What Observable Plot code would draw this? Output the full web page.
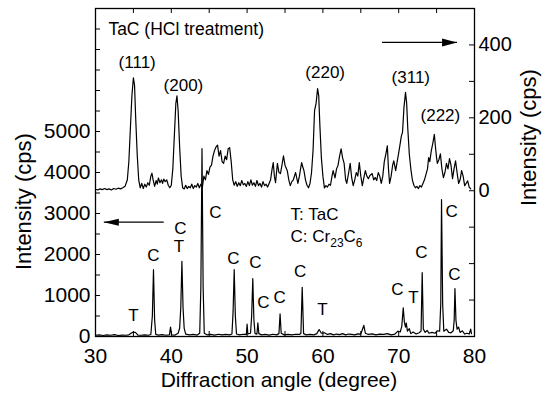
<!DOCTYPE html>
<html><head><meta charset="utf-8">
<script src="https://cdn.jsdelivr.net/npm/d3@7"></script>
<script src="https://cdn.jsdelivr.net/npm/@observablehq/plot@0.6"></script>
<style>html,body{margin:0;padding:0;background:#fff;}</style>
</head><body><div id="chart"></div>
<script>
// Upper trace: TaC after HCl treatment, right axis (cps)
const upperTrace = [
[30.0,4],[30.3,2],[30.6,5],[30.9,3],[31.2,6],[31.5,3],[31.8,5],[32.1,2],[32.4,6],[32.7,4],[33.0,7],[33.3,5],[33.6,8],[33.9,12],
[34.2,30],[34.4,80],[34.6,170],[34.8,260],[35.0,310],[35.15,290],[35.3,200],[35.5,100],[35.7,30],[35.9,8],[36.1,20],[36.3,6],
[36.5,18],[36.7,10],[36.9,22],[37.1,15],[37.3,40],[37.45,48],[37.6,30],[37.8,12],[38.0,28],[38.15,18],[38.3,35],[38.5,22],
[38.7,30],[38.85,20],[39.0,32],[39.2,25],[39.4,30],[39.6,15],[39.8,8],[40.0,15],[40.2,60],[40.4,150],[40.6,240],[40.75,260],
[40.9,220],[41.1,120],[41.3,40],[41.5,8],[41.7,5],[41.9,15],[42.1,6],[42.3,12],[42.5,8],[42.7,18],[42.9,6],[43.1,14],[43.3,10],
[43.5,20],[43.7,8],[43.9,18],[44.1,10],[44.3,40],[44.5,30],[44.7,55],[44.9,45],[45.1,65],[45.3,70],[45.5,95],[45.7,110],[45.9,120],
[46.1,125],[46.3,95],[46.5,110],[46.7,80],[46.9,75],[47.1,95],[47.3,85],[47.5,115],[47.7,118],[47.9,80],[48.1,30],[48.3,15],
[48.5,25],[48.7,12],[48.9,22],[49.1,14],[49.3,28],[49.5,16],[49.7,20],[49.9,12],[50.1,25],[50.3,14],[50.5,30],[50.7,15],[50.9,22],
[51.1,12],[51.3,28],[51.5,14],[51.7,20],[51.9,10],[52.1,25],[52.3,14],[52.5,18],[52.7,10],[52.9,20],[53.1,30],[53.3,60],[53.45,77],
[53.6,40],[53.75,22],[54.0,75],[54.2,50],[54.4,47],[54.6,70],[54.8,96],[55.0,70],[55.3,55],[55.5,30],[55.7,14],[55.9,25],[56.1,30],
[56.4,50],[56.7,20],[56.9,40],[57.05,60],[57.2,77],[57.35,65],[57.5,55],[57.7,30],[57.9,15],[58.1,8],[58.3,20],[58.5,50],[58.7,110],
[58.9,220],[59.1,240],[59.3,280],[59.45,260],[59.6,180],[59.8,90],[60.0,40],[60.2,8],[60.4,14],[60.6,10],[60.8,18],[61.0,15],
[61.2,40],[61.35,55],[61.6,35],[61.8,60],[62.0,70],[62.2,95],[62.4,115],[62.6,90],[62.8,75],[63.0,30],[63.15,20],[63.4,50],[63.6,75],
[63.8,35],[64.0,14],[64.2,30],[64.4,50],[64.6,40],[64.8,77],[65.0,40],[65.2,14],[65.4,35],[65.6,55],[65.8,40],[66.0,33],[66.2,42],
[66.5,47],[66.7,30],[66.9,36],[67.1,28],[67.3,50],[67.5,40],[67.7,20],[67.9,40],[68.1,80],[68.3,100],[68.5,123],[68.65,60],[68.8,20],
[69.0,40],[69.2,70],[69.35,82],[69.6,55],[69.8,80],[70.0,104],[70.2,130],[70.35,150],[70.5,160],[70.7,230],[70.9,270],[71.05,240],
[71.2,170],[71.4,100],[71.6,60],[71.8,30],[72.0,15],[72.2,8],[72.4,12],[72.6,6],[72.8,14],[73.0,10],[73.2,20],[73.4,30],[73.6,45],
[73.8,60],[73.95,91],[74.1,80],[74.3,110],[74.5,130],[74.7,155],[74.85,120],[75.0,90],[75.1,75],[75.3,85],[75.5,101],[75.7,60],
[75.9,36],[76.1,50],[76.3,75],[76.5,60],[76.7,88],[76.9,70],[77.1,33],[77.3,60],[77.5,82],[77.7,50],[77.9,20],[78.1,30],[78.3,55],
[78.5,40],[78.7,14],[78.9,20],[79.1,27],[79.3,10],[79.5,5]
];
// Lower trace: as-received, left axis (cps)
const lowerTrace = [
[30.0,30],[30.5,40],[31.0,25],[31.5,40],[32.0,30],[32.5,45],[33.0,25],[33.5,35],[34.0,30],[34.4,40],[34.7,80],[35.0,110],[35.3,95],
[35.6,35],[36.0,30],[36.5,40],[37.0,30],[37.3,50],[37.5,500],[37.65,1630],[37.8,400],[37.95,50],[38.3,35],[38.8,45],[39.3,30],
[39.75,40],[39.9,230],[40.05,40],[40.5,35],[40.9,80],[41.1,200],[41.25,700],[41.4,1830],[41.55,700],[41.7,200],[41.9,60],[42.4,40],
[42.9,50],[43.4,35],[43.75,80],[43.9,1200],[44.05,4580],[44.2,1200],[44.35,80],[44.7,40],[45.2,50],[45.7,35],[46.2,55],[46.7,40],
[47.2,50],[47.7,40],[48.0,60],[48.15,600],[48.3,1630],[48.45,500],[48.6,60],[49.0,40],[49.5,55],[49.9,50],[50.0,300],[50.1,60],
[50.45,80],[50.6,500],[50.75,1410],[50.9,400],[51.05,70],[51.3,60],[51.42,330],[51.55,70],[51.9,40],[52.4,50],[52.9,35],[53.4,55],
[53.9,40],[54.2,70],[54.35,550],[54.5,80],[54.9,40],[55.4,50],[55.9,40],[56.4,55],[56.9,50],[57.1,80],[57.27,1200],[57.45,70],
[57.8,40],[58.3,50],[58.8,40],[59.2,70],[59.5,170],[59.8,80],[60.2,90],[60.6,50],[61.0,70],[61.4,40],[61.8,60],[62.2,45],[62.6,70],
[63.0,40],[63.4,60],[63.8,50],[64.2,40],[64.6,65],[65.0,60],[65.4,270],[65.6,80],[66.0,50],[66.5,65],[67.0,40],[67.5,60],[68.0,50],
[68.5,70],[69.0,40],[69.5,60],[69.9,130],[70.2,110],[70.4,240],[70.6,700],[70.75,350],[70.9,230],[71.0,330],[71.15,130],[71.4,190],
[71.6,70],[71.9,110],[72.3,60],[72.7,90],[72.95,130],[73.1,1560],[73.25,180],[73.5,100],[73.75,150],[74.0,80],[74.4,100],[74.8,80],
[75.1,140],[75.4,130],[75.55,800],[75.65,3340],[75.8,800],[75.95,130],[76.3,180],[76.6,100],[76.9,90],[77.2,140],[77.32,400],
[77.42,1170],[77.55,400],[77.7,180],[77.9,230],[78.1,100],[78.4,140],[78.7,60],[79.0,80],[79.3,60],[79.5,180],[79.6,70]
];

// Axes and ticks
const xTicks = [30,35,40,45,50,55,60,65,70,75,80];
const xTickLabels = [30,40,50,60,70,80];
const leftTicks = [0,500,1000,1500,2000,2500,3000,3500,4000,4500,5000,5500,6000,6500,7000,7500,8000];
const leftTickLabels = [0,1000,2000,3000,4000,5000];
const rightTicks = [-400,-300,-200,-100,0,100,200,300,400,500];
const rightTickLabels = [0,200,400];
const leftDomain = [0, 8000];
const rightDomain = [-400, 500];

// Annotations (upper panel, right-axis units)
const titleText = ["TaC (HCl treatment)"];
const titleAngle = [31.7];
const titleCps = [442];
const peakLabels = ["(111)","(200)","(220)","(311)","(222)"];
const peakAngles = [35.5, 41.6, 60.3, 71.6, 75.5];
const peakLabelCps = [352, 289, 324, 311, 206];

// Annotations (lower panel, left-axis units)
const phaseLetters = ["T","C","C","T","C","C","C","C","C","C","T","C","T","C","C","C"];
const phaseAngles = [35.0,37.65,41.2,41.0,45.83,48.2,51.1,52.16,54.3,57.0,59.95,69.84,71.95,73.0,76.97,77.36];
const phaseLabelCps = [510,1975,2630,2195,3020,1900,1800,830,950,1585,660,1150,950,2050,3050,1510];
const legendLines = ["T: TaC", "C: Cr23C6"];
const legendAngle = [55.73, 55.73];
const legendCps = [2975, 2440];

// Axis titles (position along the axis, in left-axis units)
const yTitle = "Intensity (cps)";
const xTitle = "Diffraction angle (degree)";
const leftTitleCps = 3290;
const rightTitleCps = 4850;
const xTitleAngle = 54.2;

// Arrows pointing to the axis each trace belongs to
const arrowRight = {x1: 67.8, x2: 77.7, cpsRight: 407};   // upper trace -> right axis
const arrowLeft = {x1: 39.0, x2: 31.1, cpsLeft: 2788};     // lower trace -> left axis

const toLeft = d3.scaleLinear().domain(rightDomain).range(leftDomain);
const fromLeft = toLeft.invert;

const upper = upperTrace.map(([a, c]) => ({angle: a, v: toLeft(c)}));
const lower = lowerTrace.map(([a, c]) => ({angle: a, v: c}));
const titleData = titleText.map((t, i) => ({t, x: titleAngle[i], y: toLeft(titleCps[i])}));
const peakData = peakLabels.map((t, i) => ({t, x: peakAngles[i], y: toLeft(peakLabelCps[i])}));
const phaseData = phaseLetters.map((t, i) => ({t, x: phaseAngles[i], y: phaseLabelCps[i]}));
const legendData = legendLines.map((t, i) => ({t, x: legendAngle[i], y: legendCps[i]}));
const arrows = [
  {x1: arrowRight.x1, x2: arrowRight.x2, y: toLeft(arrowRight.cpsRight), dir: "r"},
  {x1: arrowLeft.x1, x2: arrowLeft.x2, y: arrowLeft.cpsLeft, dir: "l"}
];

const headRight = {draw(ctx){ctx.moveTo(0,0);ctx.lineTo(-15,-4);ctx.lineTo(-15,4);ctx.closePath();}};
const headLeft = {draw(ctx){ctx.moveTo(0,0);ctx.lineTo(15,-3.5);ctx.lineTo(15,3.5);ctx.closePath();}};

const font = "'Liberation Sans', Arial, Helvetica, sans-serif";
const W = 550, H = 393, ML = 95, MR = 76, MT = 8, MB = 57;
const plotW = W - ML - MR, plotH = H - MT - MB, TICK = 5;

const plot = Plot.plot({
  width: W, height: H,
  marginLeft: ML, marginRight: MR, marginTop: MT, marginBottom: MB,
  style: {fontFamily: font, background: "white", color: "black"},
  x: {domain: [30, 80]},
  y: {domain: leftDomain},
  marks: [
    Plot.line(lower, {x: "angle", y: "v", stroke: "black", strokeWidth: 1.2}),
    Plot.line(upper, {x: "angle", y: "v", stroke: "black", strokeWidth: 1.2}),
    Plot.frame({stroke: "black", strokeWidth: 1.3}),
    // inward tick marks
    Plot.tickX(xTicks, {x: d => d, insetTop: plotH - TICK, stroke: "black"}),
    Plot.tickX(xTicks, {x: d => d, insetBottom: plotH - TICK, stroke: "black"}),
    Plot.tickY(leftTicks, {y: d => d, insetRight: plotW - TICK, stroke: "black"}),
    Plot.tickY(rightTicks.map(toLeft), {y: d => d, insetLeft: plotW - TICK, stroke: "black"}),
    // tick labels
    Plot.axisX({anchor: "bottom", ticks: xTickLabels, tickSize: 0, tickPadding: 12, fontSize: 21, label: null, tickFormat: d => String(d)}),
    Plot.axisY({anchor: "left", ticks: leftTickLabels, tickSize: 0, tickPadding: 5, fontSize: 21, label: null, tickFormat: d => String(d)}),
    Plot.axisY({anchor: "right", ticks: rightTickLabels.map(toLeft), tickSize: 0, tickPadding: 4, fontSize: 20, label: null,
      tickFormat: v => String(Math.round(fromLeft(v)))}),
    // axis titles
    Plot.text([{t: yTitle, y: leftTitleCps}], {y: "y", text: "t", frameAnchor: "left", rotate: -90, dx: -65, textAnchor: "middle", lineAnchor: "bottom", fontSize: 22}),
    Plot.text([{t: yTitle, y: rightTitleCps}], {y: "y", text: "t", frameAnchor: "right", rotate: -90, dx: 61, textAnchor: "middle", lineAnchor: "bottom", fontSize: 22}),
    Plot.text([{t: xTitle, x: xTitleAngle}], {x: "x", text: "t", frameAnchor: "bottom", dy: 50, textAnchor: "middle", lineAnchor: "bottom", fontSize: 21}),
    // annotations
    Plot.text(titleData, {x: "x", y: "y", text: "t", textAnchor: "start", lineAnchor: "middle", fontSize: 17.5}),
    Plot.text(peakData, {x: "x", y: "y", text: "t", lineAnchor: "middle", fontSize: 17}),
    Plot.text(phaseData, {x: "x", y: "y", text: "t", lineAnchor: "middle", fontSize: 17}),
    Plot.text(legendData, {x: "x", y: "y", text: "t", textAnchor: "start", lineAnchor: "middle", fontSize: 17}),
    Plot.link(arrows, {x1: "x1", x2: "x2", y1: "y", y2: "y", stroke: "black", strokeWidth: 1.3}),
    Plot.dot(arrows.filter(d => d.dir === "r"), {x: "x2", y: "y", symbol: headRight, fill: "black", r: 5}),
    Plot.dot(arrows.filter(d => d.dir === "l"), {x: "x2", y: "y", symbol: headLeft, fill: "black", r: 5})
  ]
});

// Subscripts for Cr23C6
plot.querySelectorAll("text").forEach(t => {
  if (t.textContent === "C: Cr23C6") {
    t.textContent = "";
    const ns = "http://www.w3.org/2000/svg";
    const parts = [["C: Cr", null, 0], ["23", 12, 5], ["C", null, -5], ["6", 12, 5]];
    parts.forEach(([s, fs, dy]) => {
      const sp = document.createElementNS(ns, "tspan");
      sp.textContent = s;
      if (fs) sp.setAttribute("font-size", fs);
      if (dy) sp.setAttribute("dy", dy);
      t.appendChild(sp);
    });
  }
});

document.getElementById("chart").appendChild(plot);
</script>
</body></html>
